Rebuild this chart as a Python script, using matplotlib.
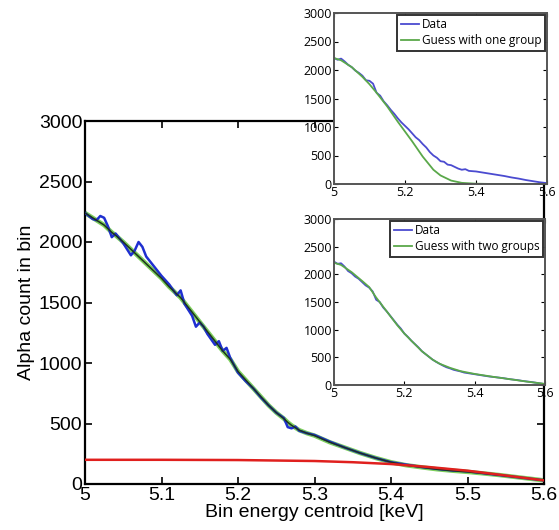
import numpy as np
import matplotlib
matplotlib.use("Agg")
import matplotlib.pyplot as plt

matplotlib.rcParams.update({
    "font.family": ["Liberation Sans", "DejaVu Sans"],
    "xtick.direction": "in",
    "ytick.direction": "in",
})

# --- main panel: measured spectrum and fits ---
e_main = [5.000, 5.010, 5.015, 5.020, 5.025, 5.030, 5.035, 5.040, 5.050, 5.060,
          5.065, 5.070, 5.075, 5.080, 5.090, 5.100, 5.110, 5.120, 5.125, 5.130,
          5.140, 5.145, 5.150, 5.155, 5.160, 5.170, 5.175, 5.180, 5.185, 5.190,
          5.200, 5.210, 5.220, 5.230, 5.240, 5.250, 5.260, 5.265, 5.270, 5.275,
          5.280, 5.290, 5.300, 5.320, 5.340, 5.360, 5.380, 5.400, 5.420, 5.440,
          5.460, 5.480, 5.500, 5.520, 5.540, 5.560, 5.580, 5.600]
data_main = [2240, 2190, 2180, 2215, 2200, 2130, 2040, 2070, 1990, 1890,
             1930, 2000, 1960, 1880, 1800, 1720, 1650, 1560, 1600, 1490,
             1390, 1300, 1335, 1300, 1240, 1150, 1180, 1100, 1125, 1040,
             920, 850, 790, 715, 650, 590, 545, 470, 460, 475,
             440, 420, 405, 350, 300, 255, 215, 180, 160, 140,
             125, 112, 105, 90, 75, 60, 45, 30]
fit_main = [2240, 2200, 2180, 2160, 2140, 2110, 2080, 2055, 2000, 1940,
            1910, 1880, 1850, 1820, 1760, 1700, 1630, 1570, 1540, 1500,
            1420, 1380, 1340, 1300, 1260, 1180, 1140, 1100, 1065, 1030,
            930, 860, 790, 720, 650, 590, 540, 510, 485, 465,
            445, 420, 400, 345, 300, 255, 215, 180, 155, 138,
            122, 110, 100, 88, 75, 60, 45, 30]
e_bg = [5.0, 5.1, 5.2, 5.3, 5.35, 5.4, 5.45, 5.5, 5.55, 5.6]
bg_main = [200, 200, 198, 190, 180, 165, 140, 110, 70, 30]

# --- insets: measured data (finer binning) ---
e_in_data = [5.00, 5.01, 5.02, 5.03, 5.04, 5.05, 5.06, 5.07, 5.08, 5.09,
             5.10, 5.11, 5.12, 5.13, 5.14, 5.15, 5.16, 5.17, 5.18, 5.19,
             5.20, 5.21, 5.22, 5.23, 5.24, 5.25, 5.26, 5.27, 5.28, 5.29,
             5.30, 5.31, 5.32, 5.33, 5.34, 5.35, 5.36, 5.37, 5.38, 5.40,
             5.42, 5.44, 5.46, 5.48, 5.50, 5.52, 5.54, 5.56, 5.58, 5.60]
data_top = [2210, 2180, 2200, 2150, 2090, 2050, 1990, 1950, 1900, 1820,
            1810, 1760, 1600, 1550, 1450, 1380, 1300, 1230, 1150, 1080,
            1020, 960, 890, 820, 770, 700, 640, 560, 500, 460,
            400, 390, 340, 330, 300, 270, 250, 260, 230, 220,
            200, 180, 160, 140, 115, 95, 70, 50, 30, 15]
data_bot = [2230, 2190, 2200, 2140, 2060, 2020, 1960, 1920, 1860, 1800,
            1760, 1690, 1540, 1500, 1400, 1330, 1250, 1170, 1090, 1020,
            930, 870, 800, 740, 680, 610, 560, 510, 460, 420,
            385, 350, 320, 300, 275, 260, 245, 225, 215, 195,
            175, 155, 140, 125, 105, 90, 70, 55, 35, 15]

# --- insets: guesses ---
e_in = [5.00, 5.02, 5.05, 5.08, 5.10, 5.12, 5.15, 5.18, 5.20, 5.22, 5.25,
        5.28, 5.30, 5.33, 5.36, 5.40, 5.45, 5.50, 5.55, 5.60]
guess_one = [2210, 2170, 2050, 1880, 1750, 1600, 1360, 1090, 920, 750, 480,
             250, 150, 60, 20, 5, 0, 0, 0, 0]
guess_two = [2210, 2170, 2040, 1880, 1770, 1580, 1330, 1080, 930, 800, 610,
             460, 385, 310, 250, 200, 150, 105, 60, 20]

W, H = 559, 530
fig = plt.figure(figsize=(W / 100, H / 100), dpi=100)

ax = fig.add_axes([85 / W, 46 / H, 459 / W, 363 / H])
ax.plot(e_main, fit_main, color="#7ccf5a", lw=3.2, zorder=2)
ax.plot(e_main, data_main, color="#1f2fd0", lw=1.8, zorder=3)
ax.plot(e_main, fit_main, color="#1d3320", lw=1.1, zorder=4)
ax.plot(e_bg, bg_main, color="#e0201e", lw=1.8, zorder=5)
ax.set_xlim(5.0, 5.6)
ax.set_ylim(0, 3000)
ax.set_xticks([5.0, 5.1, 5.2, 5.3, 5.4, 5.5, 5.6])
ax.set_xticklabels(["5", "5.1", "5.2", "5.3", "5.4", "5.5", "5.6"])
ax.set_yticks(np.arange(0, 3001, 500))
ax.tick_params(labelsize=14, top=True, right=True, length=5, width=1.2, pad=2)
for s in ax.spines.values():
    s.set_linewidth(1.6)
ax.set_xlabel("Bin energy centroid [keV]", fontsize=14, labelpad=0)
ax.set_ylabel("Alpha count in bin", fontsize=14, labelpad=3)


def inset(rect, data, guess, label):
    a = fig.add_axes(rect)
    a.set_facecolor("white")
    a.plot(e_in_data, data, color="#4b4bd0", lw=1.3, label="Data")
    a.plot(e_in, guess, color="#5aa84a", lw=1.3, label=label)
    a.set_xlim(5.0, 5.6)
    a.set_ylim(0, 3000)
    a.set_xticks([5.0, 5.2, 5.4, 5.6])
    a.set_xticklabels(["5", "5.2", "5.4", "5.6"], family="Open Sans")
    a.set_yticks(np.arange(0, 3001, 500))
    a.set_yticklabels([str(v) for v in range(0, 3001, 500)], family="Open Sans")
    a.tick_params(labelsize=9, top=True, right=True, length=3, pad=1.5)
    for s in a.spines.values():
        s.set_linewidth(1.4)
        s.set_color("#555555")
    leg = a.legend(loc="upper right", prop={"family": "Open Sans", "size": 8.5},
                   fancybox=False, framealpha=1, edgecolor="#333333",
                   borderaxespad=0.15, handlelength=1.5, handletextpad=0.3,
                   borderpad=0.3, labelspacing=0.25)
    leg.get_frame().set_linewidth(1.4)
    return a


inset([334 / W, (H - 184) / H, 213 / W, 171 / H], data_top, guess_one,
      "Guess with one group")
inset([334 / W, (H - 385) / H, 211 / W, 166 / H], data_bot, guess_two,
      "Guess with two groups")

fig.savefig("out.png", dpi=100)
